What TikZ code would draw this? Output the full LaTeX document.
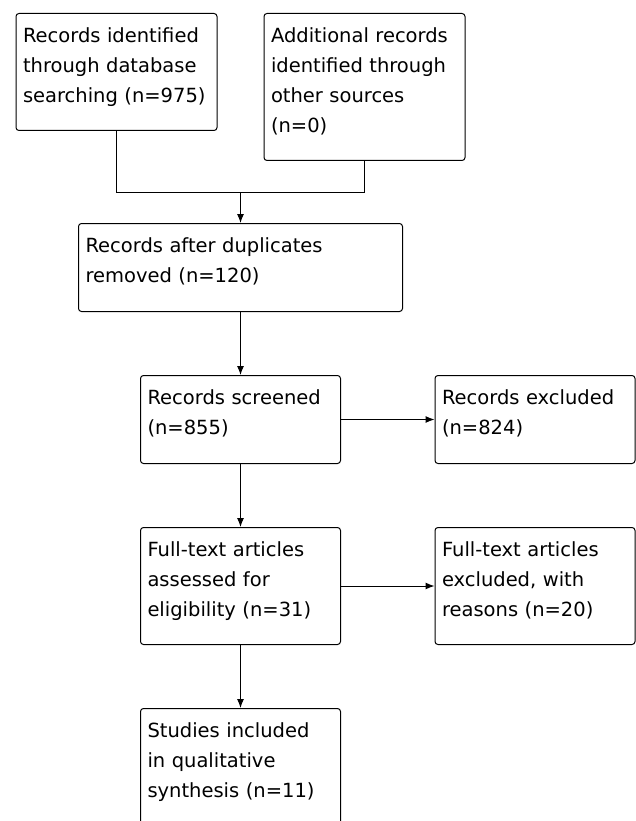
\documentclass[tikz,border=0pt]{standalone}
\usepackage{fontspec}
\setmainfont{DejaVu Sans}
\usetikzlibrary{arrows.meta}

\tikzset{
  boite/.style={draw, line width=1pt, rounded corners=3pt, anchor=north west,
    align=left, inner xsep=7pt, inner ysep=14pt, text height=15pt,
    font=\fontsize{19.5}{30}\selectfont},
  fleche/.style={line width=1pt, -{Latex[length=9pt,width=7pt]}}
}

\begin{document}
\begin{tikzpicture}[x=1pt, y=-1pt]

\useasboundingbox (0,0) rectangle (636,821);

% Boîtes
\node[boite, text width=187pt, text depth=74pt] (db) at (15.5,13)
  {Records identified\\through database\\searching (n=975)};
\node[boite, text width=187pt, text depth=104pt] (autres) at (263.5,13)
  {Additional records\\identified through\\other sources\\(n=0)};
\node[boite, text width=310pt, text depth=45pt] (doublons) at (78,223)
  {Records after duplicates\\removed (n=120)};
\node[boite, text width=186pt, text depth=45pt] (tri) at (140,375)
  {Records screened\\(n=855)};
\node[boite, text width=186pt, text depth=45pt] (exclus) at (434.5,375)
  {Records excluded\\(n=824)};
\node[boite, text width=186pt, text depth=74pt] (texte) at (140,527)
  {Full-text articles\\assessed for\\eligibility (n=31)};
\node[boite, text width=186pt, text depth=74pt] (texteexclus) at (434.5,527)
  {Full-text articles\\excluded, with\\reasons (n=20)};
\node[boite, text width=186pt, text depth=90pt] (inclus) at (140,708)
  {Studies included\\in qualitative\\synthesis (n=11)};

% Jonction
\coordinate (jonction) at (doublons.north |- 0,192.5);
\draw[line width=1pt] (db.south) |- (jonction) -| (autres.south);

% Flèches
\draw[fleche] (jonction) -- (doublons.north);
\draw[fleche] (doublons.south) -- (tri.north);
\draw[fleche] (tri) -- (exclus);
\draw[fleche] (tri.south) -- (texte.north);
\draw[fleche] (texte) -- (texteexclus);
\draw[fleche] (texte.south) -- (inclus.north);

\end{tikzpicture}
\end{document}
